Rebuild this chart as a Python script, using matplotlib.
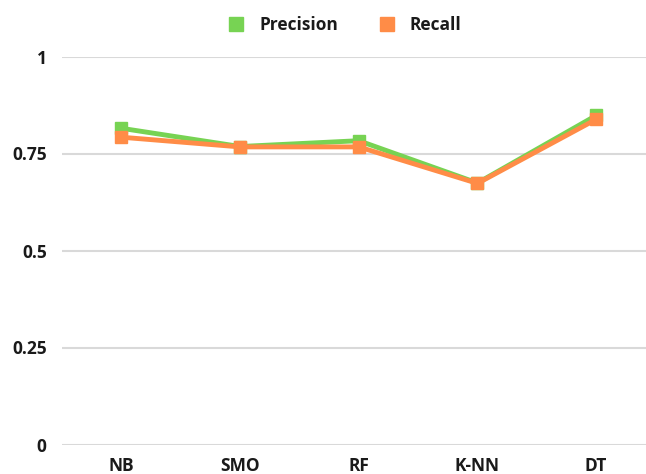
import matplotlib
matplotlib.use("Agg")
import matplotlib.pyplot as plt
from matplotlib.lines import Line2D

categories = ["NB", "SMO", "RF", "K-NN", "DT"]
precision = [0.815, 0.768, 0.783, 0.674, 0.848]
recall = [0.792, 0.767, 0.767, 0.673, 0.838]
yticks = [0, 0.25, 0.5, 0.75, 1]
yticklabels = ["0", "0.25", "0.5", "0.75", "1"]

green = "#77D353"
orange = "#FF8C47"

plt.rcParams['font.family'] = ['Open Sans', 'DejaVu Sans']

fig = plt.figure(figsize=(6.46, 4.74), dpi=100)
ax = fig.add_axes([62/646, (474-444.5)/474, 1-62/646, (444.5-56.5)/474])

x = list(range(len(categories)))
ax.plot(x, precision, color=green, lw=3.5, marker="s", ms=9, zorder=3)
ax.plot(x, recall, color=orange, lw=3.5, marker="s", ms=9, zorder=4)

ax.set_ylim(0, 1)
ax.set_xlim(-0.5, 4.42)
ax.set_yticks(yticks)
ax.set_yticklabels(yticklabels)
ax.set_xticks(x)
ax.set_xticklabels(categories)
for lab in ax.get_xticklabels() + ax.get_yticklabels():
    lab.set_fontweight("bold")
    lab.set_fontsize(12.5)
    lab.set_color("#1a1a1a")
ax.tick_params(axis="y", length=0, pad=11)
ax.tick_params(axis="x", length=0, pad=9)
ax.grid(axis="y", color="#D9D9D9", lw=1.5)
ax.set_axisbelow(True)
for s in ax.spines.values():
    s.set_visible(False)

handles = [Line2D([], [], color=green, marker="s", ls="none", ms=10),
           Line2D([], [], color=orange, marker="s", ls="none", ms=10)]
leg = fig.legend(handles, ["Precision", "Recall"], loc="upper center",
                 bbox_to_anchor=(0.533, 1.0), ncol=2, frameon=False,
                 prop={"weight": "bold", "size": 12.5}, columnspacing=2.3,
                 handletextpad=0.8, handlelength=1.0)
for t in leg.get_texts():
    t.set_color("#1a1a1a")

fig.savefig("out.png", dpi=100)
